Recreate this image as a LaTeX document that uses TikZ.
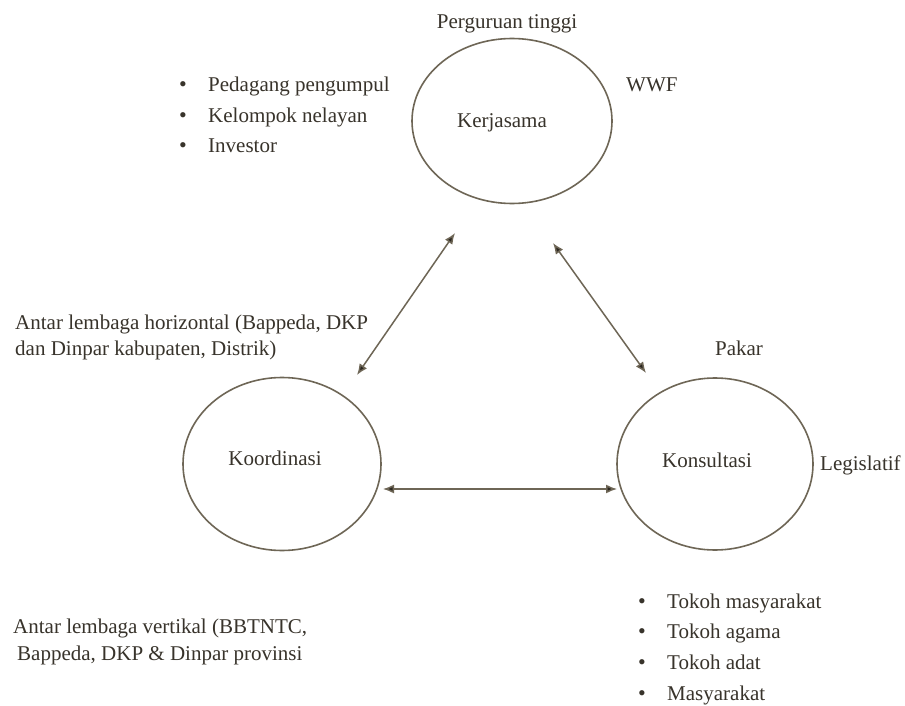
\documentclass[tikz,border=0pt]{standalone}
\usepackage{fontspec}
\setmainfont{Liberation Serif}
\usetikzlibrary{shapes.geometric,arrows.meta}
\definecolor{inkc}{HTML}{38332B}
\definecolor{linec}{HTML}{6E6656}
\definecolor{tipc}{HTML}{2A261F}
\begin{document}
\begin{tikzpicture}[x=1pt,y=-1pt,
  oval/.style={ellipse,draw=linec,line width=1.6pt,inner sep=0pt},
  txt/.style={text=inkc,font=\fontsize{21}{24}\selectfont,inner sep=0pt},
  lefttxt/.style={txt,anchor=base west},
  midtxt/.style={txt,anchor=base},
  bul/.style={txt,anchor=base,font=\fontsize{22}{24}\selectfont},
  link/.style={draw=linec,line width=1.5pt,
    {Latex[length=11pt,width=9pt,fill=tipc]}-{Latex[length=11pt,width=9pt,fill=tipc]}}]
\useasboundingbox[fill=white] (0,0) rectangle (905,706);

% ellipses
\node[oval,minimum width=200pt,minimum height=165pt] (kerj) at (512,121) {};
\node[oval,minimum width=198pt,minimum height=173pt] (koor) at (282,464) {};
\node[oval,minimum width=196pt,minimum height=172pt] (kons) at (715,464) {};

% ellipse labels
\node[midtxt] (tkerj) at (502,128) {Kerjasama};
\node[midtxt] (tkoor) at (275,465) {Koordinasi};
\node[midtxt] (tkons) at (707,467) {Konsultasi};

% arrow end points
\coordinate (a1) at (455,233);
\coordinate (a2) at (357,375);
\coordinate (b1) at (553,243);
\coordinate (b2) at (646,373);
\coordinate (c1) at (383,489);
\coordinate (c2) at (617,489);
\draw[link] (a1) -- (a2);
\draw[link] (b1) -- (b2);
\draw[link] (c1) -- (c2);

% labels around Kerjasama
\node[midtxt] (pt) at (507,29) {Perguruan tinggi};
\node[lefttxt] (wwf) at (626,92) {WWF};
\node[bul] (b11) at (183,92) {\textbullet};
\node[lefttxt] (l11) at (208,92) {Pedagang pengumpul};
\node[bul] (b12) at (183,123) {\textbullet};
\node[lefttxt] (l12) at (208,123) {Kelompok nelayan};
\node[bul] (b13) at (183,153) {\textbullet};
\node[lefttxt] (l13) at (208,153) {Investor};

% labels for Koordinasi
\node[lefttxt] (h1) at (15,329) {Antar lembaga horizontal (Bappeda, DKP};
\node[lefttxt] (h2) at (15,355) {dan Dinpar kabupaten, Distrik)};
\node[lefttxt] (v1) at (13,633) {Antar lembaga vertikal (BBTNTC,};
\node[lefttxt] (v2) at (17,660) {Bappeda, DKP \& Dinpar provinsi};

% labels for Konsultasi
\node[midtxt] (pk) at (739,355) {Pakar};
\node[lefttxt] (lg) at (820,470) {Legislatif};
\node[bul] (b21) at (642,608) {\textbullet};
\node[lefttxt] (l21) at (667,608) {Tokoh masyarakat};
\node[bul] (b22) at (642,638) {\textbullet};
\node[lefttxt] (l22) at (667,638) {Tokoh agama};
\node[bul] (b23) at (642,669) {\textbullet};
\node[lefttxt] (l23) at (667,669) {Tokoh adat};
\node[bul] (b24) at (642,700) {\textbullet};
\node[lefttxt] (l24) at (667,700) {Masyarakat};
\end{tikzpicture}
\end{document}
